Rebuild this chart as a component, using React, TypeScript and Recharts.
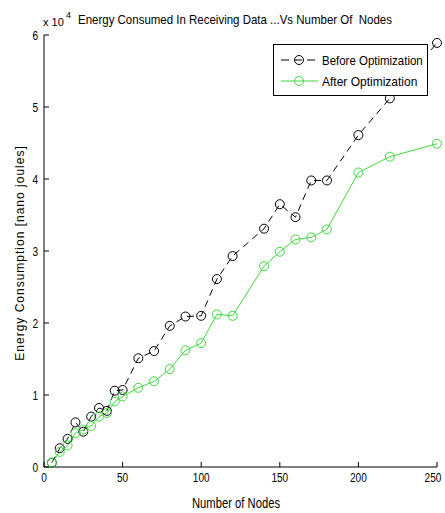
import React from "react";
import {
  LineChart,
  Line,
  XAxis,
  YAxis,
  Legend,
  Customized,
} from "recharts";

// number of nodes on the x axis
const nodes = [5, 10, 15, 20, 25, 30, 35, 40, 45, 50, 60, 70, 80, 90, 100, 110, 120, 140, 150, 160, 170, 180, 200, 220, 250];
// energy in units of 1e4 nano joules
const beforeOpt = [0.06, 0.26, 0.39, 0.62, 0.49, 0.7, 0.82, 0.78, 1.06, 1.07, 1.51, 1.61, 1.96, 2.09, 2.1, 2.61, 2.93, 3.31, 3.65, 3.47, 3.98, 3.98, 4.61, 5.12, 5.89];
const afterOpt = [0.06, 0.21, 0.3, 0.47, 0.52, 0.57, 0.7, 0.75, 0.91, 0.98, 1.1, 1.19, 1.36, 1.62, 1.72, 2.12, 2.1, 2.79, 2.99, 3.16, 3.19, 3.3, 4.09, 4.31, 4.49];

const xTicks = [0, 50, 100, 150, 200, 250];
const yTicks = [0, 1, 2, 3, 4, 5, 6];
const seriesNames = ["Before Optimization", "After Optimization"];

const data = nodes.map((n, i) => ({
  nodes: n,
  before: beforeOpt[i],
  after: afterOpt[i],
}));

const FONT = "'Liberation Sans', Arial, sans-serif";
const GREEN = "#3fd83f";
const W = 445;

const seriesStyle: Record<string, { color: string; dash?: string }> = {
  "Before Optimization": { color: "#000", dash: "8 5" },
  "After Optimization": { color: GREEN },
};

const LegendBox = () => (
  <div
    style={{
      border: "1px solid #000",
      background: "#fff",
      width: 155,
      height: 52,
      boxSizing: "border-box",
      paddingTop: 4,
    }}
  >
    {seriesNames.map((name) => {
      const s = seriesStyle[name];
      return (
        <div key={name} style={{ display: "flex", alignItems: "center", height: 21, whiteSpace: "nowrap" }}>
          <svg width={44} height={14} style={{ marginLeft: 4, flex: "none" }}>
            <line x1={3} y1={7} x2={40} y2={7} stroke={s.color} strokeDasharray={s.dash} />
            <circle cx={21} cy={7} r={4.5} fill="none" stroke={s.color} />
          </svg>
          <svg width={104} height={18} style={{ flex: "none", overflow: "visible" }}>
            <text x={0} y={14} fontFamily={FONT} fontSize={13} fill="#000" textLength={name.length * 5.3} lengthAdjust="spacingAndGlyphs">
              {name}
            </text>
          </svg>
        </div>
      );
    })}
  </div>
);

const Texts = () => (
  <g fill="#000">
    <text x={43} y={26} fontFamily={FONT} fontSize={11}>
      x 10
    </text>
    <text x={66} y={18} fontFamily={FONT} fontSize={9}>
      4
    </text>
    <text
      x={78}
      y={24}
      fontFamily={FONT}
      fontSize={13}
      style={{ whiteSpace: "pre" }}
      textLength={314}
      lengthAdjust="spacingAndGlyphs"
    >
      Energy Consumed In Receiving Data ...Vs Number Of  Nodes
    </text>
    <text x={192} y={508} fontFamily={FONT} fontSize={14} textLength={88} lengthAdjust="spacingAndGlyphs">
      Number of Nodes
    </text>
    <text
      x={24}
      y={253}
      textAnchor="middle"
      transform="rotate(-90 24 253)"
      fontFamily={FONT}
      fontSize={12}
      letterSpacing={1}
    >
      Energy Consumption [nano joules]
    </text>
  </g>
);

const NarrowTick = (props: any) => {
  const { x, y, payload, textAnchor, verticalAnchor } = props;
  const label = String(payload.value);
  const dy = verticalAnchor === "start" ? 11 : 5;
  const w = label.length * 5.6;
  const tx = textAnchor === "middle" ? Math.min(x, W - w / 2 - 2) : x;
  return (
    <text
      x={tx}
      y={y + dy}
      textAnchor={textAnchor}
      fontFamily={FONT}
      fontSize={13}
      fill="#000"
      textLength={w}
      lengthAdjust="spacingAndGlyphs"
    >
      {label}
    </text>
  );
};

export default function App() {
  return (
    <div style={{ position: "absolute", left: 0, top: 0, width: W, height: 513, background: "#fff" }}>
      <LineChart width={W} height={513} data={data} margin={{ top: 35, right: 8, left: 14, bottom: 16 }}>
        <XAxis
          dataKey="nodes"
          type="number"
          domain={[0, 250]}
          ticks={xTicks}
          height={30}
          tickSize={-5}
          tickMargin={9}
          tick={<NarrowTick />}
          axisLine={{ stroke: "#000" }}
          tickLine={{ stroke: "#000" }}
        />
        <XAxis
          xAxisId="top"
          orientation="top"
          dataKey="nodes"
          type="number"
          domain={[0, 250]}
          ticks={xTicks}
          height={0}
          mirror
          tickSize={5}
          tick={false}
          axisLine={{ stroke: "#000" }}
          tickLine={{ stroke: "#000" }}
        />
        <YAxis
          type="number"
          domain={[0, 6]}
          ticks={yTicks}
          width={30}
          tickSize={-5}
          tickMargin={11}
          tick={<NarrowTick />}
          axisLine={{ stroke: "#000" }}
          tickLine={{ stroke: "#000" }}
        />
        <YAxis
          yAxisId="right"
          orientation="right"
          type="number"
          domain={[0, 6]}
          ticks={yTicks}
          width={0}
          mirror
          tickSize={5}
          tick={false}
          axisLine={{ stroke: "#000" }}
          tickLine={{ stroke: "#000" }}
        />
        <Line
          name={seriesNames[0]}
          dataKey="before"
          stroke="#000"
          strokeWidth={1}
          strokeDasharray="7 5"
          dot={{ r: 4.5, fill: "none", stroke: "#000", strokeWidth: 1, strokeDasharray: "" }}
          isAnimationActive={false}
        />
        <Line
          name={seriesNames[1]}
          dataKey="after"
          stroke={GREEN}
          strokeWidth={1}
          dot={{ r: 4.5, fill: "none", stroke: GREEN, strokeWidth: 1 }}
          isAnimationActive={false}
        />
        <Legend
          layout="vertical"
          align="center"
          verticalAlign="middle"
          content={<LegendBox />}
          wrapperStyle={{ left: 273, top: 44, width: 155, height: 52 }}
        />
        <Customized component={Texts} />
      </LineChart>
    </div>
  );
}
